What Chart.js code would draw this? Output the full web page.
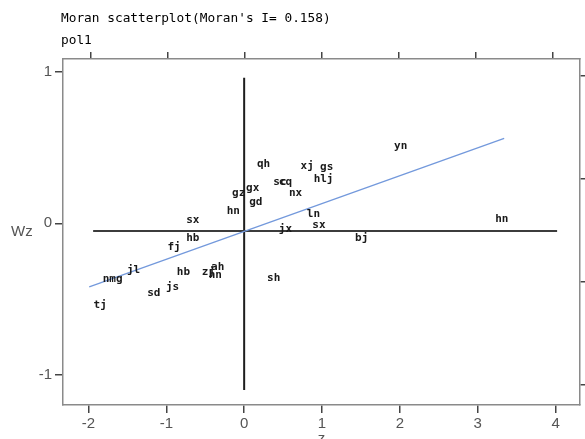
<!DOCTYPE html>
<html>
<head>
<meta charset="utf-8">
<script src="https://cdn.jsdelivr.net/npm/chart.js@4"></script>
<style>
html,body{margin:0;padding:0;background:#fff;}
#wrap{width:585px;height:439px;}
</style>
</head>
<body>
<div id="wrap"><canvas id="c" width="585" height="439"></canvas></div>
<script>
// ---- data ----
const titleLines = ["Moran scatterplot(Moran's I= 0.158)", "pol1"];
const yAxisTitle = "Wz";
const xAxisTitle = "z";

const labels = ["yn","hn","qh","xj","gs","hlj","sc","cq","nx","gz","gx","gd","hn","ln","sx","jx","bj",
                "sx","hb","fj","jl","nmg","hb","zj","ah","hn","sh","js","sd","tj"];
const zValues = [2.01, 3.31, 0.25, 0.81, 1.06, 1.02, 0.46, 0.53, 0.66, -0.07, 0.11, 0.15, -0.14, 0.89, 0.96, 0.53, 1.51,
                 -0.66, -0.66, -0.90, -1.42, -1.69, -0.78, -0.46, -0.34, -0.37, 0.38, -0.92, -1.16, -1.85];
const wzValues = [0.51, 0.03, 0.39, 0.38, 0.37, 0.29, 0.27, 0.27, 0.20, 0.20, 0.23, 0.14, 0.08, 0.06, -0.01, -0.04, -0.10,
                  0.02, -0.10, -0.16, -0.31, -0.37, -0.32, -0.32, -0.29, -0.34, -0.36, -0.42, -0.46, -0.54];

const meanLineZ = [-1.94, 4.02];
const meanLineWz = [-0.05, -0.05];
const zeroLineZ = [0, 0];
const zeroLineWz = [0.96, -1.10];
const fitLineZ = [-1.99, 3.34];
const fitLineWz = [-0.42, 0.56];

const xTicks = [-2, -1, 0, 1, 2, 3, 4];
const yTicks = [-1, 0, 1];
const y2Ticks = [0, 1, 2, 3];

// ---- chart ----
const pts = (xs, ys) => xs.map((x, i) => ({x: x, y: ys[i]}));

const textPlugin = {
  id: 'texts',
  afterDatasetsDraw(chart) {
    const ctx = chart.ctx;
    const meta = chart.getDatasetMeta(0);
    ctx.save();
    ctx.fillStyle = '#1a1a1a';
    ctx.font = "bold 11px 'DejaVu Sans Mono'";
    ctx.textAlign = 'center';
    ctx.textBaseline = 'middle';
    meta.data.forEach((el, i) => {
      ctx.fillText(labels[i], el.x, el.y);
    });
    ctx.restore();
  },
  afterDraw(chart) {
    const ctx = chart.ctx;
    ctx.save();
    ctx.fillStyle = '#000';
    ctx.font = "12.8px 'DejaVu Sans Mono'";
    ctx.textAlign = 'left';
    ctx.textBaseline = 'middle';
    ctx.fillText(titleLines[0], 61, 19);
    ctx.fillText(titleLines[1], 61, 41);
    ctx.fillStyle = '#555';
    ctx.font = "15px 'Liberation Sans'";
    ctx.fillText(yAxisTitle, 11, 232);
    ctx.restore();
  }
};

const gridOpts = (len) => ({drawOnChartArea: false, drawTicks: true, tickLength: len, color: '#444', lineWidth: 1.5});
const borderOpts = {display: true, color: '#8a8a8a', width: 1.5};
const tickFont = {family: 'Liberation Sans', size: 15};

new Chart(document.getElementById('c'), {
  data: {
    datasets: [
      {type: 'scatter', data: pts(zValues, wzValues), pointRadius: 0, pointHoverRadius: 0, xAxisID: 'x', yAxisID: 'y'},
      {type: 'line', data: pts(fitLineZ, fitLineWz), borderColor: '#7399dc', borderWidth: 1.3, pointRadius: 0, fill: false, xAxisID: 'x', yAxisID: 'y'},
      {type: 'line', data: pts(meanLineZ, meanLineWz), borderColor: '#3c3c3c', borderWidth: 2, pointRadius: 0, fill: false, xAxisID: 'x', yAxisID: 'y'},
      {type: 'line', data: pts(zeroLineZ, zeroLineWz), borderColor: '#1e1e1e', borderWidth: 2, pointRadius: 0, fill: false, xAxisID: 'x', yAxisID: 'y'}
    ]
  },
  options: {
    responsive: false,
    animation: false,
    devicePixelRatio: 1,
    layout: {padding: 0},
    plugins: {legend: {display: false}, tooltip: {enabled: false}, title: {display: false}},
    scales: {
      x: {
        type: 'linear', position: 'bottom', min: -2.327, max: 4.314,
        afterBuildTicks: s => { s.ticks = xTicks.map(v => ({value: v})); },
        afterFit: s => { s.height = 34; },
        ticks: {color: '#555', font: tickFont, padding: 2, autoSkip: false, maxRotation: 0},
        grid: gridOpts(8),
        border: borderOpts,
        title: {display: true, text: xAxisTitle, color: '#555', font: tickFont, padding: {top: 0, bottom: -9}}
      },
      x2: {
        type: 'linear', position: 'top', min: -2.36, max: 4.36,
        afterBuildTicks: s => { s.ticks = xTicks.map(v => ({value: v})); },
        afterFit: s => { s.height = 59; },
        ticks: {display: false},
        grid: gridOpts(7),
        border: borderOpts
      },
      y: {
        type: 'linear', position: 'left', min: -1.1993, max: 1.0845,
        afterBuildTicks: s => { s.ticks = yTicks.map(v => ({value: v})); },
        afterFit: s => { s.width = 63; },
        ticks: {color: '#555', font: tickFont, padding: 3},
        grid: gridOpts(8),
        border: borderOpts
      },
      y2: {
        type: 'linear', position: 'right', min: -0.194, max: 3.165,
        afterBuildTicks: s => { s.ticks = y2Ticks.map(v => ({value: v})); },
        afterFit: s => { s.width = 5; },
        ticks: {display: false},
        grid: gridOpts(5),
        border: borderOpts
      }
    }
  },
  plugins: [textPlugin]
});
</script>
</body>
</html>
